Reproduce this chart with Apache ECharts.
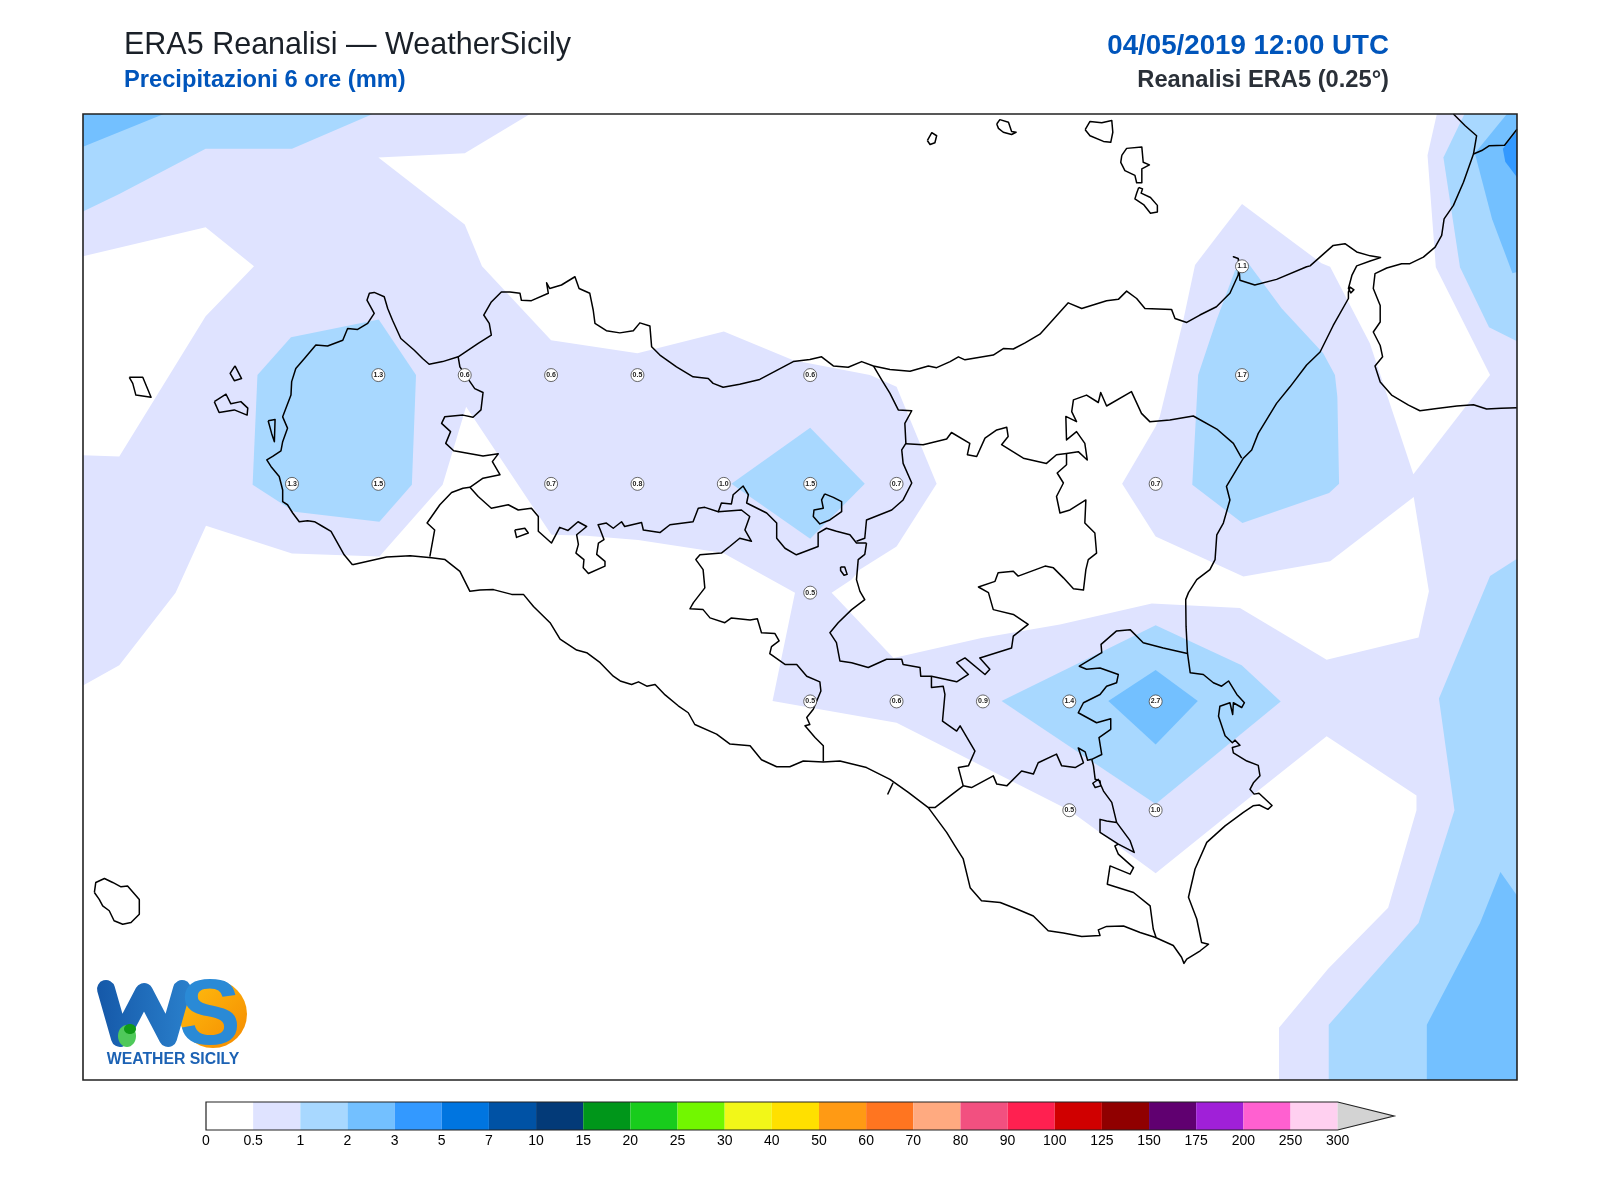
<!DOCTYPE html>
<html>
<head>
<meta charset="utf-8">
<title>ERA5 Reanalisi</title>
<script src="https://cdn.jsdelivr.net/npm/echarts@6/dist/echarts.min.js"></script>
<style>html,body{margin:0;padding:0;background:#fff}#main{width:1600px;height:1200px}</style>
</head>
<body>
<div id="main"></div>
<script>
// map window, degrees
var lonMin = 11.895, lonMax = 16.046, latMin = 36.38, latMax = 38.6;

// grid point values (mm)
var pointLon = [15.25, 12.75, 13.0, 13.25, 13.5, 14.0, 15.25, 12.5, 12.75, 13.25, 13.5, 13.75, 14.0, 14.25, 15.0, 14.0, 14.0, 14.25, 14.5, 14.75, 15.0, 14.75, 15.0];
var pointLat = [38.25, 38.0, 38.0, 38.0, 38.0, 38.0, 38.0, 37.75, 37.75, 37.75, 37.75, 37.75, 37.75, 37.75, 37.75, 37.5, 37.25, 37.25, 37.25, 37.25, 37.25, 37.0, 37.0];
var pointValue = ['1.1', '1.3', '0.6', '0.6', '0.5', '0.6', '1.7', '1.3', '1.5', '0.7', '0.8', '1.0', '1.5', '0.7', '0.7', '0.5', '0.5', '0.6', '0.9', '1.4', '2.7', '0.5', '1.0'];

// colour scale
var tickLabels = ['0', '0.5', '1', '2', '3', '5', '7', '10', '15', '20', '25', '30', '40', '50', '60', '70', '80', '90', '100', '125', '150', '175', '200', '250', '300'];
var cellColors = ['#ffffff', '#dfe3ff', '#a8d8ff', '#73c0ff', '#3399ff', '#0075e0', '#0052a5', '#033a78', '#00961a', '#18cc1c', '#72f700', '#f2f718', '#ffe000', '#ff9a14', '#ff7520', '#ffaa80', '#f25080', '#ff2050', '#d00000', '#900000', '#600070', '#a020d8', '#ff60d0', '#ffd0f0'];

// areas below 0.5 mm
var whiteNorth = [[13.189,38.6],[13.0,38.51],[12.75,38.5],[13.0,38.346],[13.05,38.25],[13.25,38.08],[13.5,38.05],[13.75,38.10],[13.951,38.034],[14.173,38.0],[14.25,37.973],[14.366,37.75],[14.25,37.606],[14.144,37.553],[14.12,37.53],[14.062,37.5],[14.241,37.35],[14.496,37.396],[14.723,37.427],[14.989,37.475],[15.244,37.465],[15.495,37.346],[15.761,37.397],[15.791,37.503],[15.747,37.72],[15.505,37.572],[15.254,37.537],[15.0,37.629],[14.903,37.75],[15.0,37.882],[15.012,37.905],[15.08,38.126],[15.114,38.253],[15.191,38.333],[15.25,38.393],[15.48,38.257],[15.505,38.249],[15.62,38.073],[15.746,37.772],[15.968,38.0],[15.811,38.248],[15.787,38.505],[15.814,38.6]];
var whiteWest = [[11.88,38.27],[12.25,38.34],[12.39,38.25],[12.25,38.135],[12.0,37.813],[11.88,37.816]];
var whiteSouth = [[11.88,37.28],[12.0,37.333],[12.163,37.5],[12.251,37.654],[12.5,37.59],[12.753,37.583],[12.936,37.748],[13.004,37.927],[13.251,37.633],[13.352,37.631],[13.502,37.621],[13.748,37.591],[13.956,37.5],[13.891,37.251],[14.25,37.201],[14.75,37.0],[15.0,36.855],[15.302,37.048],[15.495,37.17],[15.755,37.034],[15.755,37.0],[15.673,36.776],[15.5,36.636],[15.357,36.5],[15.357,36.37],[11.88,36.37]];

// 1-2 mm areas
var oneTopLeft = [[11.88,38.61],[12.763,38.61],[12.5,38.52],[12.25,38.52],[12.0,38.416],[11.88,38.37]];
var oneWest = [[12.751,38.128],[12.859,38.0],[12.847,37.748],[12.753,37.663],[12.507,37.686],[12.386,37.748],[12.4,38.0],[12.497,38.087]];
var oneCentre = [[14.0,37.879],[14.158,37.75],[14.0,37.624],[13.772,37.75]];
var oneNorthEast = [[15.268,38.257],[15.365,38.153],[15.485,38.05],[15.519,38.0],[15.526,37.95],[15.531,37.75],[15.502,37.729],[15.251,37.66],[15.106,37.748],[15.123,38.0],[15.176,38.126],[15.23,38.241]];
var oneSouthEast = [[15.0,37.425],[15.249,37.333],[15.362,37.25],[15.0,37.014],[14.554,37.251]];
var oneCalabria = [[15.9,38.61],[15.833,38.5],[15.881,38.248],[15.965,38.11],[16.06,38.072],[16.06,38.61]];
var oneIonian = [[16.06,37.585],[15.968,37.538],[15.82,37.257],[15.865,37.0],[15.761,36.741],[15.501,36.507],[15.501,36.37],[16.06,36.37]];

// 2-3 mm areas
var twoTopLeft = [[11.88,38.61],[12.16,38.61],[11.88,38.52]];
var twoCatania = [[15.0,37.322],[15.122,37.251],[15.0,37.151],[14.863,37.251]];
var twoCalabria = [[16.027,38.61],[15.924,38.51],[15.974,38.358],[16.033,38.234],[16.06,38.24],[16.06,38.61]];
var twoIonian = [[16.06,36.788],[15.998,36.858],[15.939,36.741],[15.785,36.507],[15.785,36.37],[16.06,36.37]];

// 3-5 mm area
var threeCalabria = [[16.005,38.52],[16.06,38.575],[16.06,38.44],[16.012,38.49]];

// coastline of Sicily, closed
var coastSicily = [[12.675,37.564],[12.651,37.587],[12.632,37.614],[12.613,37.641],[12.589,37.652],[12.565,37.663],[12.545,37.665],[12.521,37.663],[12.502,37.683],[12.487,37.702],[12.473,37.709],[12.473,37.736],[12.463,37.767],[12.439,37.79],[12.427,37.805],[12.444,37.813],[12.468,37.826],[12.473,37.847],[12.487,37.878],[12.473,37.904],[12.497,37.954],[12.499,37.985],[12.511,38.015],[12.536,38.038],[12.569,38.069],[12.603,38.067],[12.647,38.08],[12.661,38.107],[12.69,38.105],[12.719,38.119],[12.738,38.142],[12.717,38.172],[12.724,38.188],[12.738,38.19],[12.767,38.18],[12.777,38.153],[12.791,38.126],[12.815,38.084],[12.854,38.057],[12.878,38.038],[12.897,38.025],[12.936,38.031],[12.981,38.042],[13.039,38.073],[13.077,38.092],[13.071,38.119],[13.055,38.138],[13.077,38.168],[13.106,38.191],[13.131,38.191],[13.16,38.188],[13.164,38.172],[13.193,38.171],[13.242,38.188],[13.237,38.212],[13.246,38.199],[13.28,38.207],[13.319,38.226],[13.331,38.199],[13.362,38.188],[13.372,38.149],[13.377,38.119],[13.41,38.102],[13.449,38.097],[13.488,38.102],[13.507,38.12],[13.536,38.113],[13.541,38.065],[13.565,38.046],[13.613,38.019],[13.661,37.996],[13.705,37.992],[13.719,37.981],[13.748,37.972],[13.796,37.979],[13.854,37.99],[13.951,38.031],[13.999,38.036],[14.033,38.042],[14.067,38.021],[14.11,38.018],[14.149,38.031],[14.183,38.021],[14.231,38.013],[14.289,38.009],[14.342,38.021],[14.366,38.017],[14.405,38.031],[14.429,38.042],[14.448,38.035],[14.53,38.046],[14.559,38.061],[14.588,38.06],[14.622,38.074],[14.665,38.094],[14.747,38.166],[14.786,38.153],[14.858,38.171],[14.892,38.174],[14.916,38.193],[14.945,38.176],[14.969,38.153],[15.046,38.151],[15.056,38.13],[15.09,38.121],[15.128,38.138],[15.176,38.157],[15.215,38.188],[15.239,38.23],[15.242,38.257],[15.239,38.268],[15.225,38.272],[15.239,38.268],[15.244,38.218],[15.287,38.207],[15.35,38.22],[15.437,38.249],[15.447,38.251],[15.514,38.298],[15.548,38.302],[15.582,38.283],[15.621,38.274],[15.651,38.27],[15.621,38.262],[15.582,38.251],[15.568,38.229],[15.558,38.199],[15.565,38.189],[15.574,38.196],[15.563,38.202],[15.558,38.191],[15.558,38.176],[15.514,38.114],[15.476,38.053],[15.437,38.023],[15.389,37.973],[15.35,37.935],[15.297,37.866],[15.278,37.828],[15.254,37.809],[15.205,37.744],[15.215,37.713],[15.196,37.66],[15.177,37.633],[15.172,37.576],[15.157,37.553],[15.119,37.53],[15.095,37.5],[15.087,37.484],[15.088,37.423],[15.092,37.362],[15.1,37.316],[15.138,37.312],[15.167,37.293],[15.191,37.285],[15.211,37.297],[15.235,37.266],[15.257,37.247],[15.249,37.236],[15.225,37.247],[15.223,37.22],[15.215,37.247],[15.186,37.239],[15.182,37.216],[15.201,37.171],[15.222,37.155],[15.23,37.161],[15.244,37.149],[15.222,37.144],[15.225,37.132],[15.264,37.113],[15.297,37.103],[15.302,37.079],[15.283,37.063],[15.273,37.048],[15.285,37.037],[15.299,37.039],[15.337,37.011],[15.325,37.002],[15.3,37.012],[15.282,37.01],[15.254,36.995],[15.201,36.964],[15.148,36.926],[15.114,36.865],[15.095,36.8],[15.119,36.75],[15.133,36.696],[15.153,36.692],[15.129,36.677],[15.09,36.658],[15.082,36.648],[15.075,36.662],[15.051,36.689],[14.998,36.708],[14.955,36.719],[14.907,36.734],[14.858,36.733],[14.834,36.725],[14.839,36.712],[14.786,36.71],[14.733,36.718],[14.689,36.723],[14.646,36.757],[14.598,36.773],[14.55,36.788],[14.496,36.792],[14.463,36.822],[14.443,36.888],[14.419,36.918],[14.395,36.949],[14.342,37.006],[14.284,37.041],[14.231,37.071],[14.163,37.098],[14.086,37.113],[14.038,37.111],[13.98,37.113],[13.941,37.1],[13.903,37.1],[13.859,37.116],[13.826,37.148],[13.768,37.152],[13.729,37.175],[13.666,37.197],[13.647,37.224],[13.618,37.24],[13.58,37.265],[13.551,37.289],[13.527,37.285],[13.503,37.295],[13.483,37.289],[13.45,37.297],[13.43,37.308],[13.392,37.339],[13.353,37.362],[13.324,37.368],[13.276,37.393],[13.247,37.431],[13.199,37.468],[13.17,37.496],[13.136,37.496],[13.083,37.507],[13.044,37.506],[13.015,37.503],[12.986,37.549],[12.943,37.576],[12.904,37.58],[12.842,37.585],[12.774,37.582],[12.675,37.564]];

// internal boundaries
var borderWest = [[12.981,38.042],[12.986,38.019],[13.015,37.985],[13.029,37.969],[13.053,37.96],[13.047,37.92],[13.024,37.903],[12.995,37.908],[12.942,37.904],[12.933,37.889],[12.959,37.87],[12.945,37.843],[12.968,37.826],[13.053,37.814],[13.097,37.819],[13.08,37.801],[13.102,37.771],[13.053,37.763],[13.015,37.742],[12.995,37.74],[12.962,37.73],[12.928,37.702],[12.891,37.66],[12.913,37.644],[12.899,37.583]];
var borderPalermo = [[13.015,37.742],[13.039,37.721],[13.077,37.694],[13.126,37.702],[13.155,37.69],[13.193,37.694],[13.213,37.675],[13.213,37.641],[13.251,37.614],[13.275,37.65],[13.299,37.643],[13.328,37.663],[13.353,37.652],[13.324,37.633],[13.329,37.611],[13.322,37.591],[13.345,37.576],[13.343,37.557],[13.358,37.544],[13.406,37.561],[13.406,37.572],[13.382,37.588],[13.387,37.614],[13.403,37.622],[13.392,37.645],[13.386,37.656],[13.41,37.66],[13.43,37.648],[13.454,37.663],[13.463,37.652],[13.512,37.661],[13.517,37.644],[13.565,37.638],[13.594,37.656],[13.661,37.663],[13.676,37.694],[13.695,37.696],[13.734,37.686],[13.743,37.706],[13.772,37.704],[13.777,37.725],[13.806,37.745],[13.821,37.725],[13.816,37.706],[13.874,37.683],[13.903,37.66],[13.903,37.625],[13.927,37.602],[13.96,37.587],[14.023,37.606],[14.023,37.637],[14.047,37.648],[14.076,37.641],[14.115,37.633],[14.134,37.614],[14.163,37.614]];
var borderEnna = [[14.163,37.614],[14.158,37.588],[14.139,37.576],[14.134,37.53],[14.144,37.503],[14.158,37.484],[14.12,37.461],[14.081,37.431],[14.057,37.408],[14.076,37.385],[14.086,37.343],[14.12,37.339],[14.168,37.328],[14.221,37.347],[14.265,37.347],[14.269,37.335],[14.318,37.328],[14.32,37.308],[14.351,37.308],[14.424,37.295],[14.458,37.312],[14.424,37.339],[14.448,37.35],[14.506,37.312],[14.52,37.324],[14.491,37.35],[14.583,37.373],[14.588,37.4],[14.631,37.427],[14.588,37.45],[14.53,37.461],[14.516,37.5],[14.487,37.513],[14.535,37.526],[14.544,37.546],[14.588,37.549],[14.602,37.538],[14.68,37.561],[14.704,37.557],[14.733,37.534],[14.762,37.509],[14.791,37.506],[14.798,37.553],[14.805,37.576],[14.829,37.591],[14.824,37.637],[14.795,37.66],[14.798,37.713],[14.752,37.69],[14.723,37.683],[14.713,37.721],[14.733,37.752],[14.715,37.775],[14.742,37.794],[14.742,37.82]];
var borderNebrodi = [[14.183,38.021],[14.207,37.989],[14.231,37.958],[14.255,37.92],[14.294,37.918],[14.274,37.889],[14.277,37.843],[14.265,37.828],[14.269,37.797],[14.294,37.752],[14.269,37.713],[14.236,37.69],[14.163,37.667],[14.158,37.625],[14.134,37.618]];
var borderMessina = [[14.277,37.842],[14.327,37.84],[14.395,37.853],[14.409,37.868],[14.462,37.843],[14.455,37.817],[14.482,37.813],[14.506,37.855],[14.54,37.874],[14.569,37.88],[14.573,37.859],[14.554,37.84],[14.617,37.809],[14.684,37.797],[14.713,37.817],[14.742,37.82],[14.776,37.824],[14.802,37.805],[14.795,37.843],[14.771,37.87],[14.742,37.851],[14.74,37.905],[14.771,37.893],[14.757,37.916],[14.762,37.943],[14.8,37.954],[14.834,37.937],[14.841,37.96],[14.858,37.929],[14.93,37.962],[14.959,37.912],[14.983,37.893],[15.041,37.897],[15.109,37.906],[15.177,37.876],[15.225,37.843],[15.249,37.809]];
var borderAgrigento = [[13.734,37.686],[13.801,37.69],[13.825,37.675],[13.811,37.644],[13.83,37.618],[13.796,37.625],[13.767,37.606],[13.743,37.591],[13.681,37.587],[13.669,37.576],[13.69,37.553],[13.695,37.511],[13.662,37.477],[13.652,37.463],[13.69,37.461],[13.71,37.442],[13.753,37.431],[13.772,37.442],[13.826,37.437],[13.847,37.44],[13.859,37.408],[13.898,37.406],[13.91,37.389],[13.888,37.376],[13.883,37.36],[13.927,37.335],[13.961,37.335],[13.99,37.308],[14.028,37.295],[14.031,37.274],[14.009,37.232],[13.99,37.213],[13.999,37.197],[13.985,37.194],[14.014,37.167],[14.038,37.148],[14.038,37.112]];
var borderGela = [[14.351,37.308],[14.351,37.282],[14.385,37.285],[14.39,37.266],[14.383,37.205],[14.424,37.182],[14.434,37.194],[14.477,37.136],[14.458,37.102],[14.429,37.098],[14.443,37.056],[14.467,37.052],[14.53,37.079],[14.54,37.06],[14.569,37.056],[14.612,37.09],[14.646,37.083],[14.66,37.109],[14.713,37.129],[14.728,37.102],[14.767,37.098],[14.791,37.109],[14.776,37.143],[14.796,37.134],[14.803,37.115],[14.815,37.117]];
var borderRagusa = [[14.443,37.056],[14.405,37.033],[14.361,37.006],[14.342,37.006]];
var borderCatania = [[14.815,37.117],[14.844,37.128],[14.836,37.167],[14.87,37.186],[14.87,37.21],[14.829,37.201],[14.776,37.224],[14.791,37.247],[14.839,37.266],[14.858,37.285],[14.887,37.293],[14.892,37.312],[14.839,37.327],[14.8,37.324],[14.779,37.331],[14.844,37.362],[14.842,37.381],[14.887,37.412],[14.926,37.415],[14.964,37.385],[15.022,37.373],[15.092,37.36]];
var borderSiracusa = [[14.815,37.117],[14.82,37.102],[14.825,37.071],[14.839,37.067],[14.841,37.056],[14.825,37.052],[14.818,37.062],[14.834,37.071],[14.849,37.044],[14.873,37.018],[14.887,36.972],[14.926,36.93],[14.938,36.903],[14.892,36.922],[14.839,36.949],[14.839,36.979],[14.858,36.975],[14.887,36.972]];
var borderIblei = [[14.892,36.922],[14.882,36.918],[14.892,36.899],[14.936,36.868],[14.926,36.853],[14.868,36.872],[14.86,36.83],[14.936,36.811],[14.984,36.78],[14.993,36.727],[15.001,36.708]];
var stubSouth = [[14.24,37.063],[14.224,37.036]];

// lakes and islands
var lakeArancio = [[13.145,37.644],[13.174,37.648],[13.184,37.637],[13.15,37.627],[13.145,37.644]];
var lakePozzillo = [[14.042,37.727],[14.067,37.719],[14.091,37.709],[14.091,37.686],[14.057,37.667],[14.028,37.658],[14.009,37.675],[14.011,37.69],[14.038,37.694],[14.033,37.713],[14.042,37.727]];
var lakePergusa = [[14.088,37.559],[14.1,37.559],[14.107,37.542],[14.098,37.54],[14.088,37.551],[14.088,37.559]];
var stagnone = [[12.431,37.895],[12.451,37.898],[12.449,37.847],[12.441,37.866],[12.431,37.895]];
var marettimo = [[12.029,37.995],[12.068,37.995],[12.092,37.949],[12.048,37.954],[12.039,37.981],[12.029,37.995]];
var levanzo = [[12.335,38.021],[12.354,37.992],[12.333,37.987],[12.321,38.004],[12.335,38.021]];
var favignana = [[12.275,37.939],[12.309,37.956],[12.323,37.934],[12.352,37.939],[12.372,37.924],[12.37,37.908],[12.333,37.92],[12.289,37.914],[12.275,37.939]];
var alicudi = [[14.339,38.539],[14.352,38.557],[14.366,38.55],[14.361,38.534],[14.347,38.53],[14.339,38.539]];
var filicudi = [[14.54,38.577],[14.549,38.587],[14.574,38.581],[14.583,38.56],[14.596,38.558],[14.583,38.553],[14.559,38.558],[14.545,38.567],[14.54,38.577]];
var salina = [[14.796,38.564],[14.81,38.583],[14.844,38.58],[14.873,38.585],[14.876,38.558],[14.87,38.535],[14.849,38.537],[14.81,38.55],[14.796,38.564]];
var lipari = [[14.902,38.505],[14.916,38.521],[14.96,38.524],[14.964,38.489],[14.982,38.483],[14.96,38.474],[14.96,38.442],[14.945,38.442],[14.94,38.459],[14.911,38.47],[14.899,38.489],[14.902,38.505]];
var vulcano = [[14.951,38.431],[14.962,38.428],[14.958,38.418],[14.985,38.408],[15.005,38.39],[15.005,38.375],[14.985,38.372],[14.965,38.392],[14.94,38.405],[14.945,38.418],[14.951,38.431]];
var pantelleria = [[11.928,36.811],[11.932,36.834],[11.957,36.843],[11.981,36.834],[12.005,36.824],[12.024,36.826],[12.058,36.795],[12.058,36.761],[12.034,36.742],[12.01,36.738],[11.985,36.746],[11.971,36.769],[11.952,36.78],[11.942,36.795],[11.928,36.811]];

// Calabria
var coastCalabria = [[15.862,38.6],[15.896,38.573],[15.929,38.55],[15.92,38.508],[15.891,38.443],[15.862,38.39],[15.835,38.359],[15.828,38.321],[15.809,38.294],[15.775,38.271],[15.736,38.256],[15.712,38.256],[15.669,38.246],[15.635,38.233],[15.63,38.199],[15.65,38.16],[15.65,38.122],[15.63,38.099],[15.65,38.068],[15.657,38.042],[15.635,38.021],[15.65,37.984],[15.683,37.954],[15.732,37.931],[15.765,37.918],[15.814,37.923],[15.872,37.929],[15.92,37.932],[15.958,37.922],[16.0,37.924],[16.046,37.925]];
var borderCalabria = [[15.92,38.508],[15.944,38.516],[15.965,38.527],[16.01,38.528],[16.046,38.565]];

var myChart = echarts.init(document.getElementById('main'));

function fill(points, color, z) {
	return {
		type: 'custom',
		xAxisIndex: 0,
		yAxisIndex: 0,
		clip: true,
		silent: true,
		z: z,
		data: [0],
		renderItem: function (params, api) {
			return {
				type: 'polygon',
				shape: { points: points.map(function (p) { return api.coord(p); }) },
				style: { fill: color }
			};
		}
	};
}

function outline(points) {
	return {
		type: 'line',
		xAxisIndex: 0,
		yAxisIndex: 0,
		data: points,
		symbol: 'none',
		silent: true,
		z: 10,
		lineStyle: { color: '#000', width: 1.5, join: 'round' }
	};
}

var series = [];
series.push(fill([[lonMin, latMin], [lonMax, latMin], [lonMax, latMax], [lonMin, latMax]], cellColors[1], 1));
[whiteNorth, whiteWest, whiteSouth].forEach(function (p) { series.push(fill(p, '#ffffff', 2)); });
[oneTopLeft, oneWest, oneCentre, oneNorthEast, oneSouthEast, oneCalabria, oneIonian].forEach(function (p) { series.push(fill(p, cellColors[2], 3)); });
[twoTopLeft, twoCatania, twoCalabria, twoIonian].forEach(function (p) { series.push(fill(p, cellColors[3], 4)); });
series.push(fill(threeCalabria, cellColors[4], 5));

[coastSicily, borderWest, borderPalermo, borderEnna, borderNebrodi, borderMessina, borderAgrigento, borderGela, borderRagusa, borderCatania, borderSiracusa, borderIblei, stubSouth,
	lakeArancio, lakePozzillo, lakePergusa, stagnone, marettimo, levanzo, favignana, alicudi, filicudi, salina, lipari, vulcano, pantelleria, coastCalabria, borderCalabria
].forEach(function (p) { series.push(outline(p)); });

// grid point markers
series.push({
	type: 'scatter',
	xAxisIndex: 0,
	yAxisIndex: 0,
	silent: true,
	z: 20,
	symbol: 'circle',
	symbolSize: 13,
	itemStyle: { color: '#fff', borderColor: '#444', borderWidth: 0.8, opacity: 1 },
	label: {
		show: true,
		position: 'inside',
		formatter: function (o) { return o.value[2]; },
		fontSize: 7,
		fontWeight: 'bold',
		fontFamily: 'Liberation Sans',
		color: '#222'
	},
	data: pointLon.map(function (lon, i) { return [lon, pointLat[i], pointValue[i]]; })
});

// map frame
series.push({
	type: 'custom',
	xAxisIndex: 0,
	yAxisIndex: 0,
	clip: false,
	silent: true,
	z: 30,
	data: [0],
	renderItem: function (params, api) {
		return {
			type: 'polygon',
			shape: { points: [api.coord([lonMin, latMin]), api.coord([lonMax, latMin]), api.coord([lonMax, latMax]), api.coord([lonMin, latMax])] },
			style: { fill: 'none', stroke: '#222', lineWidth: 1.6 }
		};
	}
});

// colour bar cells
series.push({
	type: 'custom',
	xAxisIndex: 1,
	yAxisIndex: 1,
	clip: false,
	silent: true,
	z: 5,
	data: cellColors.map(function (c, i) { return [i]; }),
	renderItem: function (params, api) {
		var i = api.value(0);
		var a = api.coord([i, 1]);
		var b = api.coord([i + 1, 0]);
		return {
			type: 'rect',
			shape: { x: a[0], y: a[1], width: b[0] - a[0], height: b[1] - a[1] },
			style: { fill: cellColors[i] }
		};
	}
});
// over-range arrow and outline
series.push({
	type: 'custom',
	xAxisIndex: 1,
	yAxisIndex: 1,
	clip: false,
	silent: true,
	z: 6,
	data: [0],
	renderItem: function (params, api) {
		var n = cellColors.length;
		return {
			type: 'group',
			children: [{
				type: 'polygon',
				shape: { points: [api.coord([n, 1]), api.coord([n + 1.195, 0.5]), api.coord([n, 0])] },
				style: { fill: '#d3d3d3' }
			}, {
				type: 'polygon',
				shape: { points: [api.coord([0, 1]), api.coord([n, 1]), api.coord([n + 1.195, 0.5]), api.coord([n, 0]), api.coord([0, 0])] },
				style: { fill: 'none', stroke: '#222', lineWidth: 1.2 }
			}]
		};
	}
});

var option = {
	animation: false,
	backgroundColor: '#fff',
	title: [
		{ text: 'ERA5 Reanalisi — WeatherSicily', left: 124, top: 30, padding: 0, textStyle: { fontFamily: 'Liberation Sans', fontSize: 30.5, fontWeight: 'normal', color: '#1a2028' } },
		{ text: 'Precipitazioni 6 ore (mm)', left: 124, top: 68.5, padding: 0, textStyle: { fontFamily: 'Liberation Sans', fontSize: 23.7, fontWeight: 'bold', color: '#0055bb' } },
		{ text: '04/05/2019 12:00 UTC', right: 211, top: 32, padding: 0, textStyle: { fontFamily: 'Liberation Sans', fontSize: 27.7, fontWeight: 'bold', color: '#0055bb' } },
		{ text: 'Reanalisi ERA5 (0.25°)', right: 211, top: 68.5, padding: 0, textStyle: { fontFamily: 'Liberation Sans', fontSize: 23.7, fontWeight: 'bold', color: '#2a3038' } }
	],
	grid: [
		{ left: 83, right: 83, top: 114, bottom: 120 },
		{ left: 206, width: 1188, top: 1102, height: 28 }
	],
	xAxis: [
		{ type: 'value', gridIndex: 0, min: lonMin, max: lonMax, show: false },
		{
			type: 'value', gridIndex: 1, min: 0, max: cellColors.length + 1.195, interval: 1,
			axisLine: { show: false }, axisTick: { show: false }, splitLine: { show: false },
			axisLabel: {
				margin: 4, fontSize: 14, color: '#000', fontFamily: 'Liberation Sans', showMaxLabel: false, hideOverlap: false,
				formatter: function (v) { return tickLabels[v] === undefined ? '' : tickLabels[v]; }
			}
		}
	],
	yAxis: [
		{ type: 'value', gridIndex: 0, min: latMin, max: latMax, show: false },
		{ type: 'value', gridIndex: 1, min: 0, max: 1, show: false }
	],
	graphic: [
		// logo
		{ type: 'circle', shape: { cx: 213, cy: 1014, r: 34 }, style: { fill: new echarts.graphic.LinearGradient(0, 0, 1, 1, [{ offset: 0, color: '#ffc010' }, { offset: 1, color: '#f58a00' }]) }, z: 40 },
		{ type: 'polyline', shape: { points: [[106, 989], [120, 1038], [144, 992], [168, 1038], [182, 989]] }, style: { stroke: new echarts.graphic.LinearGradient(0, 0, 1, 0, [{ offset: 0, color: '#1558a8' }, { offset: 1, color: '#2a80cc' }]), lineWidth: 18, lineCap: 'round', lineJoin: 'round', fill: 'none' }, z: 41 },
		{ type: 'text', style: { text: 'S', x: 210, y: 1019, align: 'center', verticalAlign: 'middle', fontFamily: 'Liberation Sans', fontWeight: 'bold', fontSize: 92, fill: '#2a8ad6' }, z: 42 },
		{ type: 'ellipse', shape: { cx: 127, cy: 1036, rx: 9, ry: 11 }, style: { fill: '#4fc95a' }, z: 43 },
		{ type: 'ellipse', shape: { cx: 130, cy: 1029, rx: 6, ry: 5 }, style: { fill: '#0f9a18' }, z: 44 },
		{ type: 'text', style: { text: 'WEATHER SICILY', x: 173, y: 1060, align: 'center', verticalAlign: 'middle', fontFamily: 'Liberation Sans', fontWeight: 'bold', fontSize: 15.8, fill: '#1c62b4' }, z: 42 }
	],
	series: series
};

myChart.setOption(option);
</script>
</body>
</html>
